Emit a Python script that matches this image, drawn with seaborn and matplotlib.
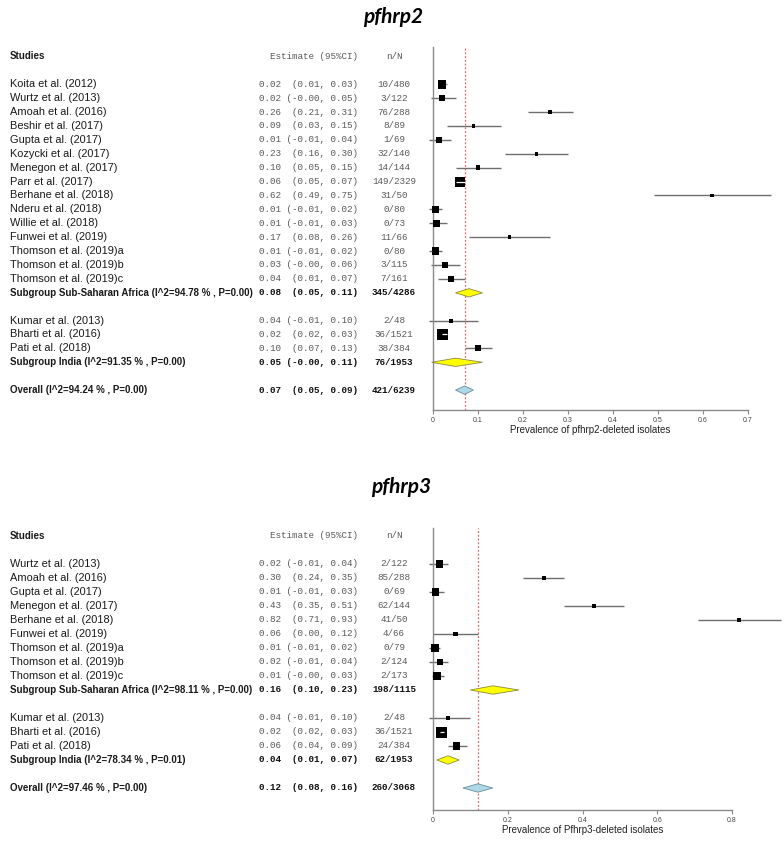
import numpy as np
import pandas as pd
import matplotlib
matplotlib.use("Agg")
import matplotlib.pyplot as plt
import seaborn as sns
from matplotlib.transforms import blended_transform_factory

# ---------------- pfhrp2 data ----------------
p2_studies = ["Koita et al. (2012)", "Wurtz et al. (2013)", "Amoah et al. (2016)",
              "Beshir et al. (2017)", "Gupta et al. (2017)", "Kozycki et al. (2017)",
              "Menegon et al. (2017)", "Parr et al. (2017)", "Berhane et al. (2018)",
              "Nderu et al. (2018)", "Willie et al. (2018)", "Funwei et al. (2019)",
              "Thomson et al. (2019)a", "Thomson et al. (2019)b", "Thomson et al. (2019)c",
              "Kumar et al. (2013)", "Bharti et al. (2016)", "Pati et al. (2018)"]
p2_region = ["Sub-Saharan Africa"] * 15 + ["India"] * 3
p2_est = [0.02, 0.02, 0.26, 0.09, 0.014, 0.23, 0.10, 0.06, 0.62, 0.006, 0.007, 0.17,
          0.006, 0.026, 0.04, 0.04, 0.02, 0.10]
p2_lo = [0.01, -0.004, 0.21, 0.03, -0.01, 0.16, 0.05, 0.05, 0.49, -0.01, -0.01, 0.08,
         -0.01, -0.004, 0.01, -0.01, 0.02, 0.07]
p2_hi = [0.03, 0.05, 0.31, 0.15, 0.04, 0.30, 0.15, 0.07, 0.75, 0.02, 0.03, 0.26,
         0.02, 0.06, 0.07, 0.10, 0.03, 0.13]
p2_nN = ["10/480", "3/122", "76/288", "8/89", "1/69", "32/140", "14/144", "149/2329",
         "31/50", "0/80", "0/73", "11/66", "0/80", "3/115", "7/161", "2/48", "36/1521",
         "38/384"]
p2_weight = [10.0, 4.8, 2.7, 2.1, 4.8, 2.1, 2.7, 13.5, 1.2, 7.4, 6.5, 1.6, 7.4, 4.8,
             4.8, 2.1, 16.1, 4.8]
p2_sub_names = ["Sub-Saharan Africa", "India"]
p2_sub_i2 = [94.78, 91.35]
p2_sub_p = [0.00, 0.00]
p2_sub_est = [0.08, 0.05]
p2_sub_lo = [0.05, -0.003]
p2_sub_hi = [0.11, 0.11]
p2_sub_nN = ["345/4286", "76/1953"]
p2_all = dict(i2=94.24, p=0.00, est=0.07, lo=0.05, hi=0.09, nN="421/6239")
p2_ticks = [0, 0.1, 0.2, 0.3, 0.4, 0.5, 0.6, 0.7]
p2_xlabel = "Prevalence of pfhrp2-deleted isolates"

# ---------------- pfhrp3 data ----------------
p3_studies = ["Wurtz et al. (2013)", "Amoah et al. (2016)", "Gupta et al. (2017)",
              "Menegon et al. (2017)", "Berhane et al. (2018)", "Funwei et al. (2019)",
              "Thomson et al. (2019)a", "Thomson et al. (2019)b", "Thomson et al. (2019)c",
              "Kumar et al. (2013)", "Bharti et al. (2016)", "Pati et al. (2018)"]
p3_region = ["Sub-Saharan Africa"] * 9 + ["India"] * 3
p3_est = [0.017, 0.297, 0.008, 0.43, 0.82, 0.06, 0.006, 0.018, 0.012, 0.04, 0.024, 0.063]
p3_lo = [-0.01, 0.24, -0.01, 0.35, 0.71, 0.00, -0.01, -0.01, -0.004, -0.01, 0.02, 0.04]
p3_hi = [0.04, 0.35, 0.03, 0.51, 0.93, 0.12, 0.02, 0.04, 0.03, 0.10, 0.03, 0.09]
p3_nN = ["2/122", "85/288", "0/69", "62/144", "41/50", "4/66", "0/79", "2/124", "2/173",
         "2/48", "36/1521", "24/384"]
p3_weight = [9.6, 3.1, 9.6, 3.1, 3.1, 3.9, 12.5, 7.0, 12.5, 2.3, 23.6, 9.6]
p3_sub_names = ["Sub-Saharan Africa", "India"]
p3_sub_i2 = [98.11, 78.34]
p3_sub_p = [0.00, 0.01]
p3_sub_est = [0.16, 0.04]
p3_sub_lo = [0.10, 0.01]
p3_sub_hi = [0.23, 0.07]
p3_sub_nN = ["198/1115", "62/1953"]
p3_all = dict(i2=97.46, p=0.00, est=0.12, lo=0.08, hi=0.16, nN="260/3068")
p3_ticks = [0, 0.2, 0.4, 0.6, 0.8]
p3_xlabel = "Prevalence of Pfhrp3-deleted isolates"

# ---------------- style ----------------
sns.set_theme(style="white")
plt.rcParams["font.family"] = ["Liberation Sans", "DejaVu Sans"]

W, H = 784, 844
fig = plt.figure(figsize=(W / 100, H / 100), dpi=100)

NAME_FS = 7.9
BOLD_FS = 7.0
MONO_FS = 6.7
GRAY_TXT = "#5a5a5a"
CI_COL = "#6e6e6e"
AX_COL = "#8a8a8a"


def fmt_ci(est, lo, hi):
    return f"{est:.2f} {'(' + format(lo, '.2f'):>6}, {hi:.2f})"


def panel(title, title_xy, studies, region, est, lo, hi, nN, weight,
          sub_names, sub_i2, sub_p, sub_est, sub_lo, sub_hi, sub_nN, overall,
          ticks, xmax, xlabel, px_left, px_right, px_top, px_bottom, px_row0, px_step):
    # row layout: studies of a group, subgroup row, blank, ...
    rows, sub_rows = [], []
    r = 0
    for g in sub_names:
        n = sum(1 for reg in region if reg == g)
        rows.extend(range(r, r + n))
        r += n
        sub_rows.append(r)
        r += 2
    overall_row = r

    df = pd.DataFrame(dict(study=studies, region=region, est=est, lo=lo, hi=hi,
                           nN=nN, weight=weight, row=rows))

    ymin = (px_top - px_row0) / px_step
    ymax = (px_bottom - px_row0) / px_step
    ax = fig.add_axes([px_left / W, 1 - px_bottom / H, (px_right - px_left) / W,
                       (px_bottom - px_top) / H])
    ax.set_xlim(0, xmax)
    ax.set_ylim(ymax, ymin)

    # reference line at overall estimate
    ax.axvline(overall["est"], color="#e06666", lw=0.9, ls=(0, (1.5, 1.5)), zorder=1)

    # CI lines
    ax.hlines(df["row"], df["lo"], df["hi"], color=CI_COL, lw=1.0, zorder=2,
              clip_on=False)

    # boxes sized by weight
    amax = (11 * 0.72) ** 2
    wmax = max(weight)
    sns.scatterplot(data=df, x="est", y="row", size="weight", sizes=(0, amax),
                    size_norm=(0, wmax), marker="s", color="black", linewidth=0,
                    legend=False, ax=ax, zorder=3, clip_on=False)

    # white CI line where the interval fits inside the box
    px_per_x = (px_right - px_left) / xmax
    for _, rr in df.iterrows():
        half = np.sqrt(rr["weight"] / wmax * amax) / 0.72 / 2 / px_per_x
        if rr["lo"] >= rr["est"] - half and rr["hi"] <= rr["est"] + half:
            ax.hlines(rr["row"], rr["lo"], rr["hi"], color="white", lw=0.9, zorder=4)

    # diamonds
    dh = 0.3
    for y, e, l, h in zip(sub_rows, sub_est, sub_lo, sub_hi):
        ax.fill([l, e, h, e], [y, y - dh, y, y + dh], facecolor="#ffff00",
                edgecolor="#8a8a40", lw=0.6, zorder=3, clip_on=False)
    ax.fill([overall["lo"], overall["est"], overall["hi"], overall["est"]],
            [overall_row, overall_row - dh, overall_row, overall_row + dh],
            facecolor="#add8e6", edgecolor="#6e8e98", lw=0.6, zorder=3, clip_on=False)

    # axes styling
    for s in ["top", "right"]:
        ax.spines[s].set_visible(False)
    for s in ["left", "bottom"]:
        ax.spines[s].set_color(AX_COL)
        ax.spines[s].set_linewidth(1.0)
    ax.set_yticks([])
    ax.set_xticks(ticks)
    ax.set_xticklabels([f"{t:g}" for t in ticks], fontsize=5, color="#444444")
    ax.tick_params(axis="x", length=3, width=0.8, color=AX_COL, pad=2, bottom=True)
    ax.set_xlabel(xlabel, fontsize=7, color="#222222", labelpad=1)
    ax.set_ylabel("")
    ax.patch.set_alpha(0)

    tr = blended_transform_factory(fig.transFigure, ax.transData)
    x_name, x_ci, x_n = 10 / W, 358 / W, 394 / W

    def put_row(y, name, ci, n, bold, name_bold=None):
        fw = "bold" if bold else "normal"
        nb = bold if name_bold is None else name_bold
        ax.text(x_name, y, name, transform=tr, ha="left", va="center",
                fontsize=BOLD_FS if nb else NAME_FS,
                fontweight="bold" if nb else "normal", color="#1a1a1a")
        ax.text(x_ci, y, ci, transform=tr, ha="right", va="center",
                fontsize=MONO_FS, fontweight=fw, family="Liberation Mono",
                color="#111111" if bold else GRAY_TXT)
        ax.text(x_n, y, n, transform=tr, ha="center", va="center",
                fontsize=MONO_FS, fontweight=fw, family="Liberation Mono",
                color="#111111" if bold else GRAY_TXT)

    put_row(-2, "Studies", "Estimate (95%CI)", "n/N", False, name_bold=True)
    for _, rr in df.iterrows():
        put_row(rr["row"], rr["study"], fmt_ci(rr["est"], rr["lo"], rr["hi"]),
                rr["nN"], False)
    for y, g, i2, p, e, l, h, n in zip(sub_rows, sub_names, sub_i2, sub_p, sub_est,
                                       sub_lo, sub_hi, sub_nN):
        put_row(y, f"Subgroup {g} (I^2={i2:.2f} % , P={p:.2f})", fmt_ci(e, l, h), n, True)
    put_row(overall_row, f"Overall (I^2={overall['i2']:.2f} % , P={overall['p']:.2f})",
            fmt_ci(overall["est"], overall["lo"], overall["hi"]), overall["nN"], True)

    fig.text(title_xy[0] / W, 1 - title_xy[1] / H, title, ha="center", va="center",
             fontsize=15, fontweight="bold", style="italic", family="Lato",
             color="black")


panel("pfhrp2", (393, 17), p2_studies, p2_region, p2_est, p2_lo, p2_hi, p2_nN,
      p2_weight, p2_sub_names, p2_sub_i2, p2_sub_p, p2_sub_est, p2_sub_lo, p2_sub_hi,
      p2_sub_nN, p2_all, p2_ticks, 0.7, p2_xlabel,
      433, 748, 47, 410, 84.3, 13.9)

panel("pfhrp3", (401, 487), p3_studies, p3_region, p3_est, p3_lo, p3_hi, p3_nN,
      p3_weight, p3_sub_names, p3_sub_i2, p3_sub_p, p3_sub_est, p3_sub_lo, p3_sub_hi,
      p3_sub_nN, p3_all, p3_ticks, 0.8, p3_xlabel,
      433, 732, 528, 810, 564, 14.0)

fig.savefig("out.png", dpi=100, facecolor="white")
